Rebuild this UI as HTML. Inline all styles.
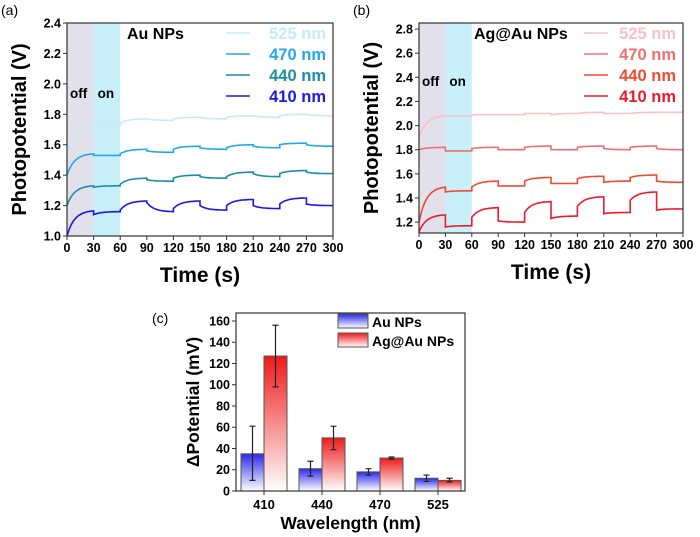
<!DOCTYPE html>
<html><head><meta charset="utf-8"><style>
body{margin:0;background:#fff;}
svg{display:block;font-family:"Liberation Sans",Arial,sans-serif;font-weight:bold;}
</style></head><body>
<svg id="fig" width="700" height="537" viewBox="0 0 700 537" xmlns="http://www.w3.org/2000/svg"></svg>
<script>
const timeTicks=[0,30,60,90,120,150,180,210,240,270,300];
const auTicks=[1.0,1.2,1.4,1.6,1.8,2.0,2.2,2.4];
const agTicks=[1.2,1.4,1.6,1.8,2.0,2.2,2.4,2.6,2.8];
const au525=[[1.55,1.73],[1.72,1.73],[1.74,1.77],[1.77,1.76],[1.77,1.78],[1.78,1.77],[1.78,1.79],[1.79,1.78],[1.79,1.80],[1.80,1.79]];
const au470=[[1.40,1.54],[1.53,1.53],[1.54,1.57],[1.56,1.55],[1.57,1.59],[1.58,1.57],[1.58,1.60],[1.59,1.58],[1.60,1.61],[1.60,1.59]];
const au440=[[1.20,1.33],[1.32,1.33],[1.34,1.38],[1.37,1.36],[1.38,1.40],[1.39,1.38],[1.39,1.42],[1.41,1.39],[1.41,1.43],[1.42,1.41]];
const au410=[[1.00,1.165],[1.14,1.16],[1.17,1.23],[1.22,1.16],[1.18,1.23],[1.20,1.17],[1.20,1.24],[1.20,1.18],[1.21,1.25],[1.21,1.20]];
const ag525=[[1.90,2.08],[2.08,2.08],[2.09,2.09],[2.09,2.09],[2.10,2.10],[2.09,2.10],[2.10,2.11],[2.10,2.10],[2.10,2.11],[2.11,2.11]];
const ag470=[[1.80,1.82],[1.79,1.79],[1.81,1.82],[1.80,1.80],[1.82,1.83],[1.80,1.80],[1.82,1.83],[1.81,1.80],[1.82,1.83],[1.81,1.80]];
const ag440=[[1.20,1.49],[1.45,1.46],[1.49,1.54],[1.50,1.50],[1.54,1.57],[1.52,1.52],[1.56,1.58],[1.53,1.54],[1.57,1.59],[1.54,1.53]];
const ag410=[[1.12,1.26],[1.16,1.17],[1.24,1.32],[1.21,1.20],[1.28,1.37],[1.23,1.25],[1.33,1.41],[1.27,1.28],[1.38,1.45],[1.30,1.31]];
const wavelengths=["410","440","470","525"];
const auBar=[35,21,18,12];
const auErrLo=[10,14,15,9];
const auErrHi=[61,28,21,15];
const agBar=[127,50,31,10];
const agErrLo=[98,39,30,8.5];
const agErrHi=[156,61,32,12];
const barTicks=[0,20,40,60,80,100,120,140,160];

const S=document.getElementById('fig');const NS="http://www.w3.org/2000/svg";
function el(tag,attrs,parent,txt){const e=document.createElementNS(NS,tag);for(const k in attrs)e.setAttribute(k,attrs[k]);if(txt!==undefined)e.textContent=txt;(parent||S).appendChild(e);return e;}
const defs=el('defs',{});
function grad(id,c){const g=el('linearGradient',{id:id,x1:0,y1:0,x2:0,y2:1},defs);el('stop',{offset:'0','stop-color':c},g);el('stop',{offset:'1','stop-color':'#fff'},g);}
grad('gb','#2a2ae8');grad('gr','#ee1a1a');

function panel(o){
 const g=el('g',{});
 
 
 const sx=t=>o.x0+(t-0)/300*(o.x1-o.x0);
 const sy=v=>o.yb-(v-o.vmin)/(o.vmax-o.vmin)*(o.yb-o.yt);
 let r=el('rect',{x:sx(0),y:o.yt,width:sx(30)-sx(0),height:o.yb-o.yt,fill:'#e2e0ea'},g);
 
 r=el('rect',{x:sx(30),y:o.yt,width:sx(60)-sx(30),height:o.yb-o.yt,fill:'#c8f0fa'},g);
 
 let t=el('text',{x:sx(0)+3,y:o.offY,'font-size':13.5},g,'off');
 t=el('text',{x:sx(30)+4,y:o.offY,'font-size':13.5},g,'on');
 o.series.forEach((s,i)=>{
  let d='';
  s.data.forEach((seg,j)=>{
   const k=0.12;
   for(let n=0;n<=30;n++){const tt=j*30+n;const f=(1-Math.exp(-k*n))/(1-Math.exp(-k*30));const v=seg[0]+(seg[1]-seg[0])*f;d+=(d?'L':'M')+sx(tt).toFixed(1)+','+sy(v).toFixed(1);}
  });
  const p=el('path',{d:d,fill:'none',stroke:s.color,'stroke-width':1.6},g);
  
  const ly=o.legY+i*21;
  const l=el('line',{x1:o.legX,x2:o.legX+24,y1:ly-6,y2:ly-6,stroke:s.color,'stroke-width':1.6},g);
  
  const lt=el('text',{x:o.x1-7,y:ly,'font-size':16.5,'text-anchor':'end',fill:s.color},g,s.label);
  
 });
 let b=el('rect',{x:o.x0,y:o.yt,width:o.x1-o.x0,height:o.yb-o.yt,fill:'none',stroke:'#333','stroke-width':1.2},g);
 
 timeTicks.forEach(tk=>{el('line',{x1:sx(tk),x2:sx(tk),y1:o.yb,y2:o.yb+4,stroke:'#333'},g);
  const tx=el('text',{x:sx(tk),y:o.yb+16,'font-size':12.5,'text-anchor':'middle'},g,tk);});
 o.ticks.forEach(tk=>{el('line',{x1:o.x0-4,x2:o.x0,y1:sy(tk),y2:sy(tk),stroke:'#333'},g);
  const tx=el('text',{x:o.x0-6,y:sy(tk)+4.5,'font-size':12.5,'text-anchor':'end'},g,tk.toFixed(1));});
 t=el('text',{x:(o.x0+o.x1)/2,y:o.yb+46,'font-size':21,'text-anchor':'middle'},g,'Time (s)');
 t=el('text',{x:0,y:0,'font-size':20,'text-anchor':'middle',transform:`translate(${o.x0-41},${(o.yt+o.yb)/2}) rotate(-90)`},g,'Photopotential (V)');
 t=el('text',{x:o.titleX,y:39,'font-size':16},g,o.title);
 t=el('text',{x:o.x0-66,y:15,'font-size':14,'font-weight':'normal'},g,o.letter);
}
panel({name:'panel-a',x0:67,x1:333,yt:23,yb:236,vmin:1.0,vmax:2.4,ticks:auTicks,offY:98,legX:226,legY:39,title:'Au NPs',titleX:127,letter:'(a)',
 series:[{label:'525 nm',color:'#c4ecf8',data:au525},{label:'470 nm',color:'#22a8ea',data:au470},{label:'440 nm',color:'#1a8ea8',data:au440},{label:'410 nm',color:'#1a1ae6',data:au410}]});
panel({name:'panel-b',x0:419,x1:683,yt:23,yb:233,vmin:1.11,vmax:2.85,ticks:agTicks,offY:86,legX:584,legY:39,title:'Ag@Au NPs',titleX:474,letter:'(b)',
 series:[{label:'525 nm',color:'#f8c0c8',data:ag525},{label:'470 nm',color:'#f07070',data:ag470},{label:'440 nm',color:'#f04a30',data:ag440},{label:'410 nm',color:'#ee1a2a',data:ag410}]});

(function(){
 const g=el('g',{});
 
 
 const x0=236,x1=465,yt=313,yb=491,vmax=167.5;
 const sy=v=>yb-v/vmax*(yb-yt);
 const cx=i=>264+i*58;const bw=23;
 function bar(v,lo,hi,x,fill,nm){
  const r=el('rect',{x:x,y:sy(v),width:bw,height:yb-sy(v),fill:fill,stroke:'#555','stroke-width':1},g);
  
  const m=x+bw/2;
  const e=el('path',{d:`M${m},${sy(lo)}V${sy(hi)}M${m-3},${sy(lo)}H${m+3}M${m-3},${sy(hi)}H${m+3}`,stroke:'#222','stroke-width':1.2,fill:'none'},g);
  
 }
 wavelengths.forEach((w,i)=>{
  bar(auBar[i],auErrLo[i],auErrHi[i],cx(i)-bw,'url(#gb)','bar-au-'+w);
  bar(agBar[i],agErrLo[i],agErrHi[i],cx(i),'url(#gr)','bar-ag-'+w);
  el('line',{x1:cx(i),x2:cx(i),y1:yb,y2:yb+4,stroke:'#333'},g);
  const t=el('text',{x:cx(i),y:yb+18,'font-size':13,'text-anchor':'middle'},g,w);
 });
 barTicks.forEach(tk=>{el('line',{x1:x0-4,x2:x0,y1:sy(tk),y2:sy(tk),stroke:'#333'},g);
  const t=el('text',{x:x0-6,y:sy(tk)+4.5,'font-size':12.5,'text-anchor':'end'},g,tk);});
 const f=el('rect',{x:x0,y:yt,width:x1-x0,height:yb-yt,fill:'none',stroke:'#333','stroke-width':1.2},g);
 let r=el('rect',{x:338,y:314,width:30,height:14,fill:'url(#gb)',stroke:'#555'},g);
 r=el('rect',{x:338,y:333,width:30,height:14,fill:'url(#gr)',stroke:'#555'},g);
 let t=el('text',{x:372,y:327,'font-size':14},g,'Au NPs');
 t=el('text',{x:372,y:346,'font-size':14},g,'Ag@Au NPs');
 t=el('text',{x:(x0+x1)/2,y:529,'font-size':17.5,'text-anchor':'middle'},g,'Wavelength (nm)');
 t=el('text',{x:0,y:0,'font-size':17.5,'text-anchor':'middle',transform:`translate(199,${(yt+yb)/2}) rotate(-90)`},g,'ΔPotential (mV)');
 t=el('text',{x:152,y:323,'font-size':14,'font-weight':'normal'},g,'(c)');
})();
</script>
</body></html>
